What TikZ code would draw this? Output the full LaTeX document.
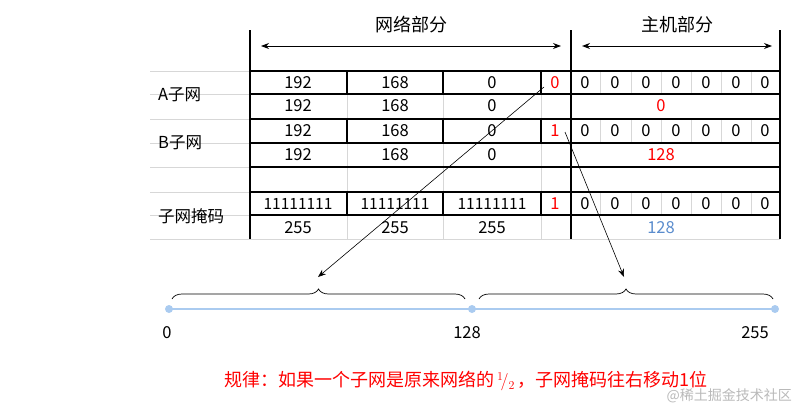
\documentclass[tikz,border=0pt]{standalone}
\usepackage{fontspec}
\setmainfont{Noto Sans CJK SC}
\usetikzlibrary{arrows.meta,decorations.pathreplacing}
\definecolor{gl}{RGB}{215,215,215}
\definecolor{lb}{RGB}{170,203,240}
\definecolor{bl}{RGB}{90,140,205}
\begin{document}
\begin{tikzpicture}[x=1pt,y=-1pt,font=\fontsize{16.5}{18}\selectfont,
  thk/.style={line width=1.6pt,black},
  thn/.style={line width=0.6pt,gl},
  txt/.style={inner sep=0pt,anchor=center},
  red/.style={text=red}]
\useasboundingbox (0,0) rectangle (800,415);
% gray grid
\foreach \y in {71,94,119,143,167,192,215,239} \draw[thn] (150,\y) -- (780,\y);
\foreach \x in {347,443,541} \draw[thn] (\x,71) -- (\x,239);
\foreach \x in {600,631,661,691,721,751} {\draw[thn] (\x,71) -- (\x,94); \draw[thn] (\x,119) -- (\x,143); \draw[thn] (\x,192) -- (\x,215);}
% thick lines
\draw[thk] (250,30) -- (250,239);
\draw[thk] (571,30) -- (571,239);
\draw[thk] (780,30) -- (780,239);
\foreach \y in {71,94,119,143,167,192,215} \draw[thk] (250,\y) -- (780,\y);
\foreach \x in {347,443,541} {\draw[thk] (\x,71) -- (\x,94); \draw[thk] (\x,119) -- (\x,143); \draw[thk] (\x,192) -- (\x,215);}
% header
\node[txt,font=\fontsize{18}{20}\selectfont] (hn) at (411,25) {网络部分};
\node[txt,font=\fontsize{18}{20}\selectfont] (hh) at (677,25) {主机部分};
\coordinate (na) at (261,46); \coordinate (nb) at (561,46);
\coordinate (ha) at (582,46); \coordinate (hb) at (772,46);
\draw[{Stealth[length=8pt]}-{Stealth[length=8pt]},line width=1pt] (na) -- (nb);
\draw[{Stealth[length=8pt]}-{Stealth[length=8pt]},line width=1pt] (ha) -- (hb);
% labels
\node[txt,anchor=west] (la) at (158,95) {A子网};
\node[txt,anchor=west] (lbn) at (158,143) {B子网};
\node[txt,anchor=west] (lm) at (158,216) {子网掩码};
% rows
\foreach \y in {83,106,131,155} {
  \node[txt] at (298,\y) {192}; \node[txt] at (395,\y) {168}; \node[txt] at (492,\y) {0};}
\node[txt,red] (ra) at (555,83) {0};
\node[txt,red] (rb) at (555,131) {1};
\node[txt,red] (rm) at (555,204) {1};
\foreach \x in {585,615,646,676,706,736,765} {
  \node[txt] at (\x,83) {0}; \node[txt] at (\x,131) {0}; \node[txt] at (\x,204) {0};}
\node[txt,red] (z) at (661,106) {0};
\node[txt,red] (o28) at (661,155) {128};
\foreach \x in {298,395,492} {
  \node[txt,font=\fontsize{15.5}{17}\selectfont] at (\x,204) {11111111}; \node[txt] at (\x,228) {255};}
\node[txt,text=bl] (m128) at (661,228) {128};
% number line
\coordinate (p0) at (169,309); \coordinate (p1) at (472,309); \coordinate (p2) at (775,309);
\draw[lb,line width=2.6pt] (p0) -- (p2);
\foreach \p in {p0,p1,p2} \fill[lb] (\p) circle (4pt);
\draw[decorate,decoration={brace,amplitude=10pt},line width=0.7pt] (172,299) -- (465,299);
\draw[decorate,decoration={brace,amplitude=10pt},line width=0.7pt] (479,299) -- (773,299);
\coordinate (ta) at (318,277); \coordinate (tb) at (624,277);
\coordinate (sa) at (544,87); \coordinate (sb) at (565,132);
\draw[-{Stealth[length=8pt]},line width=0.6pt] (sa) -- (ta);
\draw[-{Stealth[length=8pt]},line width=0.6pt] (sb) -- (tb);
\node[txt] (n0) at (167,333) {0};
\node[txt] (n128) at (467,333) {128};
\node[txt] (n255) at (755,333) {255};
\node[txt,anchor=west,red,font=\fontsize{18}{20}\selectfont] (rule) at (224,381) {规律：如果一个子网是原来网络的\,$^1\!/_2$\,，子网掩码往右移动1位};
\node[txt,anchor=east,text=gray!55,font=\fontsize{14}{15}\selectfont] (wm) at (792,396) {@稀土掘金技术社区};
\end{tikzpicture}
\end{document}
